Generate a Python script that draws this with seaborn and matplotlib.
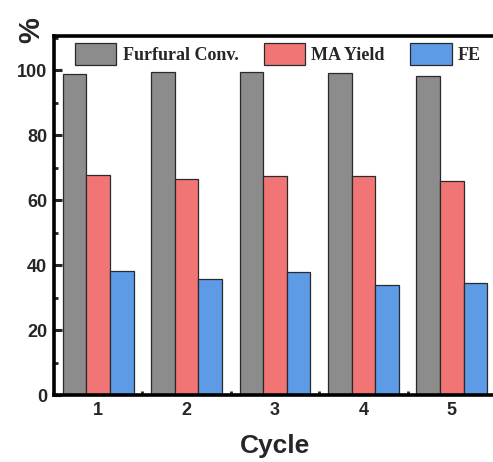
import matplotlib
matplotlib.use("Agg")
import matplotlib.pyplot as plt
import seaborn as sns
import pandas as pd
from matplotlib.ticker import MultipleLocator, FixedLocator

cycles = ["1", "2", "3", "4", "5"]
furfural_conv = [98.8, 99.3, 99.4, 99.1, 98.2]
ma_yield = [67.6, 66.6, 67.3, 67.4, 65.9]
fe = [38.1, 35.8, 37.8, 33.8, 34.6]
series_names = ["Furfural Conv.", "MA Yield", "FE"]
colors = ["#8c8c8c", "#f27575", "#5d9be6"]

df = pd.DataFrame({
    "Cycle": cycles * 3,
    "value": furfural_conv + ma_yield + fe,
    "series": [series_names[0]] * 5 + [series_names[1]] * 5 + [series_names[2]] * 5,
})

sns.set_style("ticks")
plt.rcParams["font.family"] = ["Liberation Sans", "DejaVu Sans"]
plt.rcParams["font.weight"] = "bold"

fig = plt.figure(figsize=(4.93, 4.62), dpi=100)
ax = fig.add_axes([54 / 493, (462 - 395) / 462, (496 - 54) / 493, (395 - 36) / 462])

sns.barplot(data=df, x="Cycle", y="value", hue="series", palette=colors,
            edgecolor="#2a2a2a", linewidth=0.9, width=0.8, saturation=1, ax=ax)

ax.set_xlim(-0.5, 4.5)
ax.set_ylim(0, 110.5)
ax.yaxis.set_major_locator(MultipleLocator(20))
ax.yaxis.set_minor_locator(MultipleLocator(10))
ax.xaxis.set_minor_locator(FixedLocator([0.5, 1.5, 2.5, 3.5]))

for s in ax.spines.values():
    s.set_linewidth(2.6)
    s.set_color("black")
ax.spines["right"].set_visible(False)

ax.tick_params(axis="both", which="major", direction="in", length=6, width=2.2,
               labelsize=13, pad=5)
ax.tick_params(axis="both", which="minor", direction="in", length=3, width=2.0)
ax.tick_params(axis="y", which="both", right=False)
for lab in ax.get_xticklabels() + ax.get_yticklabels():
    lab.set_fontweight("bold")

ax.set_xlabel("Cycle", fontsize=19, fontweight="bold", labelpad=11)
ax.set_ylabel("")
fig.text(31 / 493, 1 - 30 / 462, "%", rotation=90, fontsize=21, fontweight="bold",
         ha="center", va="center")

handles, labels = ax.get_legend_handles_labels()
ax.legend(handles, labels, loc="center left", bbox_to_anchor=(0.047, 0.95), ncol=3,
          frameon=False, prop={"family": "Liberation Serif", "weight": "bold", "size": 13},
          handlelength=2.3, handleheight=1.45, handletextpad=0.35, columnspacing=1.4,
          borderaxespad=0, borderpad=0)

fig.savefig("out.png", dpi=100)
